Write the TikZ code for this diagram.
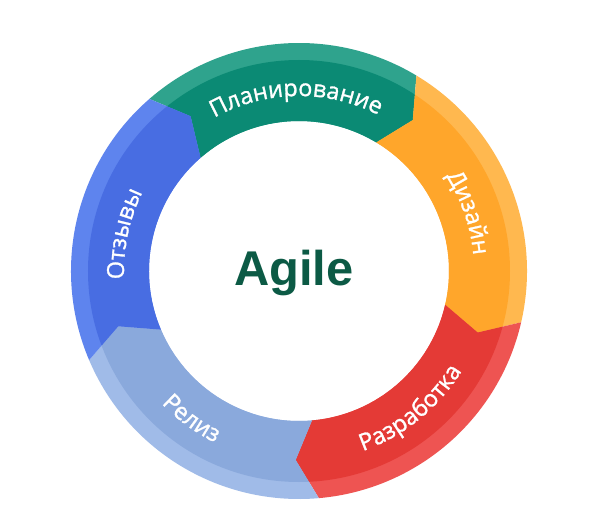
\documentclass[tikz,border=0pt]{standalone}
\usepackage{fontspec}
\newfontfamily\labelfont{Open Sans}[FakeBold=1.2]
\newfontfamily\agilefont{Liberation Sans}
\usetikzlibrary{decorations.text}
\definecolor{gL}{HTML}{2FA38D}
\definecolor{gD}{HTML}{0B8A74}
\definecolor{oL}{HTML}{FFB84F}
\definecolor{oD}{HTML}{FFA62B}
\definecolor{rL}{HTML}{EE5452}
\definecolor{rD}{HTML}{E43A36}
\definecolor{lL}{HTML}{A0BBE8}
\definecolor{lD}{HTML}{8AA9DC}
\definecolor{bL}{HTML}{5E84EE}
\definecolor{bD}{HTML}{486DE2}
\definecolor{agileC}{HTML}{0C5A45}
\newcommand\chev[3]{%
  \fill[#3] (#1:228bp) arc[start angle=#1, end angle=#2, radius=228bp]
    -- ({#2-6}:189bp) -- (#2:150bp)
    arc[start angle=#2, end angle=#1, radius=150bp]
    -- ({#1-6}:189bp) -- cycle;}
\tikzset{
  ringlabel/.style={decorate, decoration={text along path, text align=center,
    text={|\labelfont\fontsize{23.5}{23.5}\selectfont\color{white}|#1}}},
}
\begin{document}
\begin{tikzpicture}
\useasboundingbox (-299bp,-246bp) rectangle (300bp,271bp);
\fill[white] (-299bp,-246bp) rectangle (300bp,271bp);
% light outer band
\chev{131}{59}{gL}
\chev{59}{-13}{oL}
\chev{-13}{-85}{rL}
\chev{-85}{-157}{lL}
\chev{203}{131}{bL}
% dark inner part
\begin{scope}
\clip (0,0) circle (211bp);
\chev{131}{59}{gD}
\chev{59}{-13}{oD}
\chev{-13}{-85}{rD}
\chev{-85}{-157}{lD}
\chev{203}{131}{bD}
\end{scope}
% labels, upper half (reading clockwise)
\path[ringlabel={Планирование}] (136:175bp) arc[start angle=136, end angle=46, radius=175bp];
\path[ringlabel={Дизайн}] (64:175bp) arc[start angle=64, end angle=-26, radius=175bp];
\path[ringlabel={Отзывы}] (213:175bp) arc[start angle=213, end angle=123, radius=175bp];
% labels, lower half (reading counterclockwise)
\path[ringlabel={Разработка}] (-96:191bp) arc[start angle=-96, end angle=-6, radius=191bp];
\path[ringlabel={Релиз}] (-171:191bp) arc[start angle=-171, end angle=-81, radius=191bp];
% centre
\node[anchor=base, inner sep=0pt, text=agileC, font=\agilefont\bfseries\fontsize{49}{49}\selectfont] (agile) at (-5bp,-14bp) {Agile};
\end{tikzpicture}
\end{document}
